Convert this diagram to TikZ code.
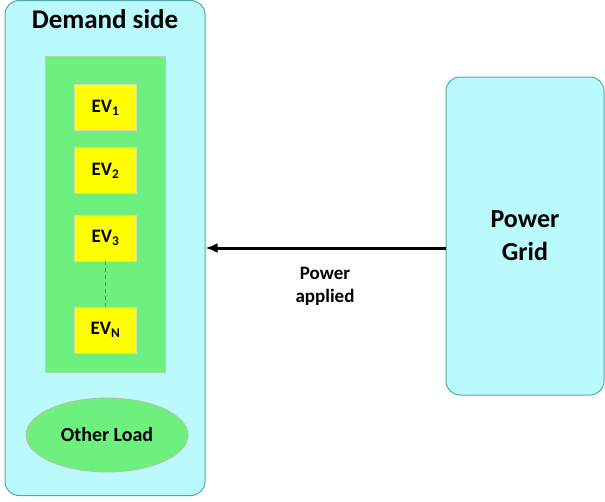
\documentclass[tikz,border=0pt]{standalone}
\usepackage{fontspec}
\setmainfont{Carlito}
\usetikzlibrary{shapes.geometric,arrows.meta}
\definecolor{cyanbg}{HTML}{BAF9FC}
\definecolor{cyanbd}{HTML}{4FA8AD}
\definecolor{greenbg}{HTML}{6EF07E}
\definecolor{greenbd}{HTML}{A8D8A8}
\definecolor{yellowbg}{HTML}{FFFF00}
\definecolor{yellowbd}{HTML}{D8D8B0}
\definecolor{dashblue}{HTML}{4F81BD}
\tikzset{
  outerbox/.style={draw=cyanbd, fill=cyanbg, line width=1pt, rounded corners=14pt},
  evbox/.style={draw=yellowbd, fill=yellowbg, line width=0.8pt, minimum width=62pt, minimum height=46pt, inner sep=0pt, font=\fontsize{19}{22}\selectfont\bfseries},
  lbl/.style={font=\fontsize{19}{23}\selectfont\bfseries, align=center},
}
\begin{document}
\begin{tikzpicture}[x=1pt,y=-1pt]
\useasboundingbox (0,0) rectangle (605,501);
% Demand side
\node[outerbox, minimum width=200pt, minimum height=495pt, inner sep=0pt] (demand) at (105,248) {};
\node[font=\fontsize{27}{30}\selectfont\bfseries] (title) at (105,19) {Demand side};
\node[draw=greenbd, fill=greenbg, line width=0.8pt, minimum width=120pt, minimum height=316pt, inner sep=0pt] (group) at (105,214) {};
\node[evbox] (ev1) at (105.5,107.5) {EV\textsubscript{1}};
\node[evbox] (ev2) at (105.5,170.5) {EV\textsubscript{2}};
\node[evbox] (ev3) at (105.5,238) {EV\textsubscript{3}};
\node[evbox] (evn) at (105.5,330) {EV\textsubscript{N}};
\draw[dashblue, dash pattern=on 4pt off 3pt, line width=1.2pt] (ev3.south) -- (evn.north);
\node[ellipse, draw=yellowbd!70!gray, fill=greenbg, line width=0.8pt, minimum width=162pt, minimum height=74pt, inner sep=0pt, font=\fontsize{20}{23}\selectfont\bfseries] (other) at (107,435) {Other Load};
% Power grid
\node[outerbox, minimum width=158pt, minimum height=318pt, inner sep=0pt, font=\fontsize{26}{33}\selectfont\bfseries, align=center] (grid) at (525,236) {Power\\Grid};
% Arrow
\draw[-{Latex[length=12pt,width=10pt]}, line width=3pt] (grid.west |- 0,248) coordinate (a0) -- (demand.east |- 0,248) coordinate (a1);
\node[lbl] (plabel) at (325,286) {Power\\applied};
\end{tikzpicture}
\end{document}
